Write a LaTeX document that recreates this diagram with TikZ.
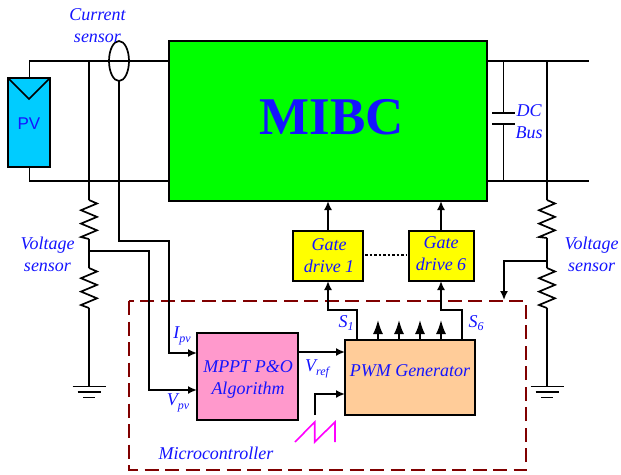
\documentclass[tikz,border=0pt]{standalone}
\usepackage{fontspec}
\setmainfont{Liberation Serif}
\newfontfamily\pvfont{Liberation Sans}
\usetikzlibrary{arrows.meta,calc,shapes.geometric}
\definecolor{lblblue}{RGB}{20,20,255}
\definecolor{mcred}{RGB}{128,0,0}
\definecolor{mibcgreen}{RGB}{0,255,0}
\definecolor{pvblue}{RGB}{0,204,255}
\definecolor{mpptpink}{RGB}{255,153,204}
\definecolor{pwmtan}{RGB}{255,204,153}
\definecolor{gateyellow}{RGB}{255,255,0}
\definecolor{sawpink}{RGB}{255,0,255}
\newcommand{\subs}[1]{\raisebox{-3.5pt}{\fontsize{12}{12}\selectfont #1}}
\newcommand{\resup}[2]{\draw[wire] (#1) -- ++(8,3.5) -- ++(-16,6.7) -- ++(16,6.7) -- ++(-16,6.7) -- ++(16,6.7) -- ++(-16,6.7) -- (#2);}
\newcommand{\gnd}[1]{\draw[wire] ($(#1)+(-16.5,0)$) -- ($(#1)+(16.5,0)$);
  \draw[wire] ($(#1)+(-11.5,5.5)$) -- ($(#1)+(11.5,5.5)$);
  \draw[wire] ($(#1)+(-6,11)$) -- ($(#1)+(6,11)$);}
\tikzset{
  wire/.style={draw=black,line width=1.7pt,line join=miter},
  arr/.style={wire,-{Latex[length=9pt,width=8pt]}},
  bigarr/.style={wire,-{Latex[length=14pt,width=10pt]}},
  blockbox/.style={draw=black,line width=1.9pt,inner sep=0pt,outer sep=0pt,anchor=north west},
  lbl/.style={font=\fontsize{18}{22}\selectfont\itshape,text=lblblue,align=center,inner sep=0pt},
}
\begin{document}
\begin{tikzpicture}[x=1pt,y=-1pt]
\useasboundingbox (0,0) rectangle (621,474);
% blocks
\node[blockbox,fill=mibcgreen,minimum width=318pt,minimum height=160pt] (mibc) at (169,41) {};
\node[font=\fontsize{53}{53}\selectfont\bfseries,text=lblblue,inner sep=0pt] (mibct) at (332,117) {MIBC};
\node[blockbox,fill=pvblue,minimum width=42pt,minimum height=89pt] (pv) at (8,78) {};
\node[font=\pvfont\fontsize{17}{20}\selectfont,text=lblblue,inner sep=0pt] (pvt) at (29,124) {PV};
\node[blockbox,fill=gateyellow,minimum width=70pt,minimum height=50pt] (g1) at (293,231) {};
\node[lbl] (g1t) at (329,256) {Gate\\drive 1};
\node[blockbox,fill=gateyellow,minimum width=65pt,minimum height=50pt] (g6) at (409,231) {};
\node[lbl] (g6t) at (441,254) {Gate\\drive 6};
\node[blockbox,fill=mpptpink,minimum width=101pt,minimum height=87pt] (mppt) at (197,333) {};
\node[lbl] (mpptt) at (248,379) {MPPT P\&O\\Algorithm};
\node[blockbox,fill=pwmtan,minimum width=130pt,minimum height=75pt] (pwm) at (345,340) {};
\node[lbl] (pwmt) at (410,371) {PWM Generator};
% microcontroller
\node[inner sep=0pt,outer sep=0pt,anchor=north west,minimum width=397pt,minimum height=169pt] (mc) at (129,301) {};
\draw[draw=mcred,line width=1.7pt,dash pattern=on 14pt off 6.5pt] (mc.north west) rectangle (mc.south east);
% PV side wires
\coordinate (tl) at (29.5,61);
\coordinate (bl) at (29.5,181);
\coordinate (tr) at (589,61);
\coordinate (br) at (589,181);
\draw[wire] (pv.north -| tl) -- (tl) -- (mibc.west |- tl);
\draw[wire] (pv.south -| bl) -- (bl) -- (mibc.west |- bl);
\draw[wire] (mibc.east |- tr) -- (tr);
\draw[wire] (mibc.east |- br) -- (br);
\draw[wire] (pv.north west) -- (29,99) -- (pv.north east);
% current sensor
\node[draw=black,line width=1.7pt,ellipse,minimum width=20pt,minimum height=40pt,inner sep=0pt,outer sep=0pt] (cs) at (119,61) {};
\coordinate (ci) at (169,241);
\draw[arr] (cs.south) -- (119,241) -- (ci) -- (169,353) -- (mppt.west |- 0,353);
% left voltage sensor
\coordinate (lv0) at (89,61);
\coordinate (lr1a) at (89,200);
\coordinate (lr1b) at (89,239);
\coordinate (lr2a) at (89,268);
\coordinate (lr2b) at (89,308);
\coordinate (lg) at (89,386.5);
\coordinate (lj) at (89,251);
\draw[wire] (lv0) -- (lr1a);
\resup{lr1a}{lr1b}
\draw[wire] (lr1b) -- (lr2a);
\resup{lr2a}{lr2b}
\draw[wire] (lr2b) -- (lg);
\gnd{lg}
\draw[arr] (lj) -- (149,251) -- (149,390) -- (mppt.west |- 0,390);
% DC bus cap
\coordinate (c0) at (503.5,61);
\coordinate (c1) at (503.5,113);
\coordinate (c2) at (503.5,124);
\coordinate (c3) at (503.5,181);
\draw[wire] (c0) -- (c1);
\draw[wire] (c2) -- (c3);
\draw[wire] ($(c1)+(-11.5,0)$) -- ($(c1)+(11.5,0)$);
\draw[wire] ($(c2)+(-11.5,0)$) -- ($(c2)+(11.5,0)$);
% right voltage sensor
\coordinate (rv0) at (547,61);
\coordinate (rr1a) at (547,200);
\coordinate (rr1b) at (547,238);
\coordinate (rr2a) at (547,268);
\coordinate (rr2b) at (547,308);
\coordinate (rg) at (547,386.5);
\coordinate (rj) at (547,261);
\draw[wire] (rv0) -- (rr1a);
\resup{rr1a}{rr1b}
\draw[wire] (rr1b) -- (rr2a);
\resup{rr2a}{rr2b}
\draw[wire] (rr2b) -- (rg);
\gnd{rg}
\draw[arr] (rj) -- (504,261) -- (504,300);
% gate drive connections
\draw[arr] (g1.north -| 328,0) -- (mibc.south -| 328,0);
\draw[arr] (g6.north -| 441,0) -- (mibc.south -| 441,0);
\draw[wire,dash pattern=on 2.5pt off 2pt] (g1.east |- 0,255) ++(2,0) -- ($(g6.west |- 0,255)+(-2,0)$);
\draw[arr] (pwm.north -| 357,0) -- (357,310) -- (328,310) -- (g1.south -| 328,0);
\draw[arr] (pwm.north -| 462,0) -- (462,310) -- (441,310) -- (g6.south -| 441,0);
% small arrows
\foreach \px/\pn in {378/a,399/b,420/c,441/d}{
  \coordinate (up\pn) at (\px,320);
  \draw[bigarr] (pwm.north -| \px,0) -- (up\pn);
}
% mppt to pwm
\draw[arr] (mppt.east |- 0,352) -- (pwm.west |- 0,352);
% sawtooth
\coordinate (saws) at (314.7,415);
\draw[arr] (saws) -- (314.7,394) -- (pwm.west |- 0,394);
\draw[draw=sawpink,line width=1.6pt] (295,442) -- (314.7,422) -- (314.7,442) -- (335,422) -- (335,442);
% labels
\node[lbl] (l1) at (97.5,26) {Current\\sensor};
\node[lbl] (l2) at (47.5,254) {Voltage\\sensor};
\node[lbl] (l3) at (591.5,254) {Voltage\\sensor};
\node[lbl] (l4) at (529,122) {DC\\Bus};
\node[lbl] (l5) at (182,336) {I\subs{pv}};
\node[lbl] (l6) at (178,403) {V\subs{pv}};
\node[lbl] (l7) at (317,369) {V\subs{ref}};
\node[lbl] (l8) at (346,323) {S\subs{1}};
\node[lbl] (l9) at (476,323) {S\subs{6}};
\node[lbl] (l10) at (216,453) {Microcontroller};
\end{tikzpicture}
\end{document}
